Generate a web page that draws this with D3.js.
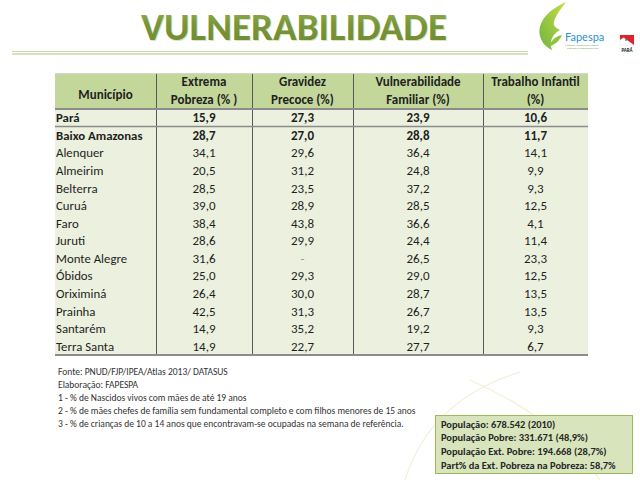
<!DOCTYPE html>
<html><head><meta charset="utf-8">
<script src="https://cdn.jsdelivr.net/npm/d3@7/dist/d3.min.js"></script>
<style>html,body{margin:0;padding:0;background:#fff;}svg{display:block;font-family:Carlito,Lato,"Open Sans",sans-serif;}</style>
</head><body>
<script>
const municipios = ["Pará","Baixo Amazonas","Alenquer","Almeirim","Belterra","Curuá","Faro","Juruti","Monte Alegre","Óbidos","Oriximiná","Prainha","Santarém","Terra Santa"];
const extremaPobreza = [15.9,28.7,34.1,20.5,28.5,39.0,38.4,28.6,31.6,25.0,26.4,42.5,14.9,14.9];
const gravidezPrecoce = [27.3,27.0,29.6,31.2,23.5,28.9,43.8,29.9,null,29.3,30.0,31.3,35.2,22.7];
const vulnerabilidadeFamiliar = [23.9,28.8,36.4,24.8,37.2,28.5,36.6,24.4,26.5,29.0,28.7,26.7,19.2,27.7];
const trabalhoInfantil = [10.6,11.7,14.1,9.9,9.3,12.5,4.1,11.4,23.3,12.5,13.5,13.5,9.3,6.7];
const headers = [["Município"],["Extrema","Pobreza (% )"],["Gravidez","Precoce (%)"],["Vulnerabilidade","Familiar (%)"],["Trabalho Infantil","(%)"]];
const notas = ["Fonte: PNUD/FJP/IPEA/Atlas 2013/ DATASUS","Elaboração: FAPESPA","1 - % de Nascidos vivos com mães de até 19 anos","2 - % de mães chefes de família sem fundamental completo e com filhos menores de 15 anos","3 - % de crianças de 10 a 14 anos que encontravam-se ocupadas na semana de referência."];
const resumo = ["População: 678.542 (2010)","População Pobre: 331.671 (48,9%)","População Ext. Pobre: 194.668 (28,7%)","Part% da Ext. Pobreza na Pobreza: 58,7%"];

const W=640,H=480;
const svg=d3.select("body").append("svg").attr("width",W).attr("height",H);

// faint watermark
svg.append("path").attr("d","M405,480 Q430,400 520,372").attr("fill","none").attr("stroke","#f4efd8").attr("stroke-width",1.2);
svg.append("path").attr("d","M600,480 Q560,420 470,380").attr("fill","none").attr("stroke","#f4efd8").attr("stroke-width",1.2);

// Title
const defs=svg.append("defs");
const tg=defs.append("linearGradient").attr("id","tg").attr("x1",0).attr("x2",0).attr("y1",0).attr("y2",1);
tg.append("stop").attr("offset","0%").attr("stop-color","#9cb95a");
tg.append("stop").attr("offset","45%").attr("stop-color","#78953a");
tg.append("stop").attr("offset","100%").attr("stop-color","#6d8a33");
svg.append("text").attr("x",141).attr("y",40).attr("textLength",306).attr("lengthAdjust","spacingAndGlyphs")
  .attr("font-size",39).attr("font-weight","bold").attr("fill","#d9e4b8").attr("dx",1).attr("dy",1).text("VULNERABILIDADE");
svg.append("text").attr("x",141).attr("y",40).attr("textLength",306).attr("lengthAdjust","spacingAndGlyphs")
  .attr("font-size",39).attr("font-weight","bold").attr("fill","url(#tg)").text("VULNERABILIDADE");
svg.append("line").attr("x1",12).attr("x2",528).attr("y1",51.5).attr("y2",51.5).attr("stroke","#c9d9a6").attr("stroke-width",1.2);
svg.append("line").attr("x1",12).attr("x2",528).attr("y1",54).attr("y2",54).attr("stroke","#c9d9a6").attr("stroke-width",1.5);

// Logo
const lg=defs.append("linearGradient").attr("id","lg").attr("x1",0).attr("x2",1).attr("y1",1).attr("y2",0);
lg.append("stop").attr("offset","0%").attr("stop-color","#6fb53d");
lg.append("stop").attr("offset","100%").attr("stop-color","#c8dc4a");
svg.append("path").attr("d","M566,2 C548,10 537,22 540,36 C542,44 548,48 552,50 C549,42 552,34 560,30 C556,28 553,26 554,22 C556,14 562,8 566,2 Z").attr("fill","url(#lg)");
svg.append("path").attr("d","M549,47 C551,40 556,36 562,35 C560,40 556,44 549,47 Z").attr("fill","#8cc63f");
svg.append("text").attr("x",565).attr("y",41).attr("font-size",11).attr("font-family","Lato,sans-serif").attr("fill","#2a93d5").text("Fapespa");
svg.append("text").attr("x",565).attr("y",46).attr("font-size",2.6).attr("fill","#6aa84f").text("Fundação Amazônia de Amparo");
svg.append("text").attr("x",567).attr("y",49).attr("font-size",2.6).attr("fill","#6aa84f").text("a Estudos e Pesquisas do Pará");
svg.append("rect").attr("x",620).attr("y",35).attr("width",14).attr("height",10).attr("fill","#fff").attr("stroke","#ddd").attr("stroke-width",0.4);
svg.append("path").attr("d","M620,35 L634,35 L634,45 Z").attr("fill","#d9262c");
svg.append("path").attr("d","M620,35 L627,35 L620,40 Z").attr("fill","#d9262c");
svg.append("path").attr("d","M626,39 l1,1 l-1,1 l-1,-1 z").attr("fill","#1b4f9c");
svg.append("text").attr("x",627).attr("y",52).attr("text-anchor","middle").attr("font-size",5).attr("font-weight","bold").attr("fill","#222").text("PARÁ");

// Table
const colEdges=[55,156,252,353,483,588];
const colKeys=headers.map((d,i)=>i);
const cols=d3.scaleOrdinal().domain(colKeys).range(colEdges.slice(0,5));
const colW=i=>colEdges[i+1]-colEdges[i];
const headTop=73, headBot=109, tableBot=355;
const rows=d3.scaleBand().domain(municipios).range([headBot,tableBot]);
const series=[null,extremaPobreza,gravidezPrecoce,vulnerabilidadeFamiliar,trabalhoInfantil];
const fmt=v=>v==null?"-":d3.format(".1f")(v).replace(".",",");

svg.append("rect").attr("x",55).attr("y",headTop).attr("width",533).attr("height",headBot-headTop).attr("fill","#c4d79b");
svg.append("rect").attr("x",55).attr("y",headBot).attr("width",533).attr("height",tableBot-headBot).attr("fill","#ebf1de");

// header text
colKeys.forEach(i=>{
  const cx=cols(i)+colW(i)/2;
  const lines=headers[i];
  const t=svg.append("text").attr("text-anchor","middle").attr("font-size",13).attr("font-weight","bold").attr("fill","#1f1f1f");
  if(lines.length===1){t.append("tspan").attr("x",cx).attr("y",99).text(lines[0]);}
  else lines.forEach((l,k)=>t.append("tspan").attr("x",cx).attr("y",86+k*18).text(l));
});

// body
municipios.forEach((m,r)=>{
  const y=rows(m)+rows.bandwidth()/2+4.5;
  const bold=r<2;
  svg.append("text").attr("x",56).attr("y",y).attr("font-size",12.8).attr("font-weight",bold?"bold":"normal").attr("fill","#1f1f1f").text(m);
  for(let c=1;c<5;c++){
    const v=series[c][r];
    svg.append("text").attr("x",cols(c)+colW(c)/2).attr("y",y).attr("text-anchor","middle").attr("font-size",13)
      .attr("font-weight",bold?"bold":"normal").attr("fill",v==null?"#999":"#1f1f1f").text(fmt(v));
  }
});

// lines
colEdges.slice(1,5).forEach(x=>svg.append("line").attr("x1",x+0.5).attr("x2",x+0.5).attr("y1",headTop).attr("y2",tableBot).attr("stroke","#595959").attr("stroke-width",1));
svg.append("line").attr("x1",55).attr("x2",588).attr("y1",headTop+0.5).attr("y2",headTop+0.5).attr("stroke","#d6d6d6").attr("stroke-width",1);
svg.append("line").attr("x1",55).attr("x2",588).attr("y1",headBot).attr("y2",headBot).attr("stroke","#8c8c8c").attr("stroke-width",2);
svg.append("line").attr("x1",55).attr("x2",588).attr("y1",rows("Baixo Amazonas")).attr("y2",rows("Baixo Amazonas")).attr("stroke","#8c8c8c").attr("stroke-width",1.5);
svg.append("line").attr("x1",55).attr("x2",588).attr("y1",tableBot).attr("y2",tableBot).attr("stroke","#8c8c8c").attr("stroke-width",2);

// notes
notas.forEach((n,i)=>svg.append("text").attr("x",58).attr("y",374.5+i*13.2).attr("font-size",9.5).attr("fill","#333").text(n));

// box
svg.append("rect").attr("x",435.5).attr("y",415.5).attr("width",197).attr("height",58).attr("fill","#d7e4bc").attr("stroke","#9bbb59").attr("stroke-width",1);
resumo.forEach((s,i)=>svg.append("text").attr("x",441).attr("y",427.5+i*13.8).attr("font-size",10.4).attr("font-weight","bold").attr("fill","#262626").text(s));
</script>
</body></html>
